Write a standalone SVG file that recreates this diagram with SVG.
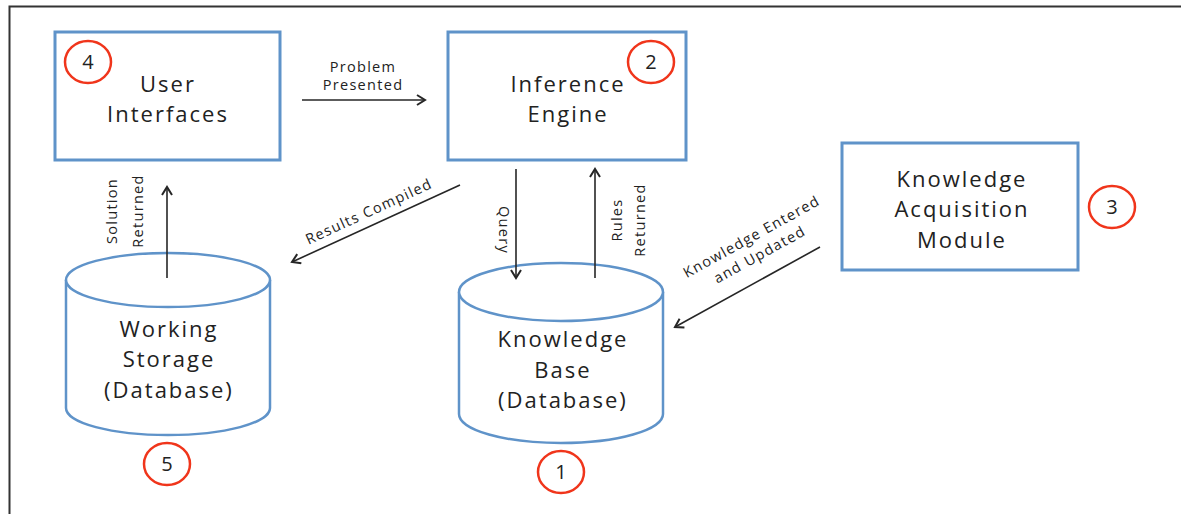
<svg xmlns="http://www.w3.org/2000/svg" width="1181" height="514" viewBox="0 0 1181 514">
<style>
.box{fill:#fff;stroke:#5f93c9;stroke-width:3}
.cyl{fill:#fff;stroke:#5f93c9;stroke-width:2.5}
.badge{fill:#fff;stroke:#f0351b;stroke-width:2.5}
.t{font-family:"Open Sans","Liberation Sans",sans-serif;font-size:22px;letter-spacing:2px;fill:#222;text-anchor:middle}
.n{font-family:"Open Sans","Liberation Sans",sans-serif;font-size:20px;fill:#222;text-anchor:middle}
.l{font-family:"Open Sans","Liberation Sans",sans-serif;font-size:14.5px;letter-spacing:1.3px;fill:#222;text-anchor:middle}
.c{stroke:#262626;stroke-width:1.6;fill:none;marker-end:url(#ah)}
</style>
<defs>
<marker id="ah" viewBox="0 0 12 12" refX="10" refY="6" markerWidth="12" markerHeight="12" markerUnits="userSpaceOnUse" orient="auto">
<path d="M2,1 L10,6 L2,11" fill="none" stroke="#262626" stroke-width="2"/>
</marker>
</defs>
<rect x="0" y="0" width="1181" height="514" fill="#fff"/>
<path d="M9.5,514 V6.5 H1181" fill="none" stroke="#333" stroke-width="2"/>

<g id="user-interfaces">
<rect class="box" x="55" y="32" width="225" height="128"/>
<text class="t" x="168" y="92">User</text>
<text class="t" x="168" y="122">Interfaces</text>
<ellipse class="badge" cx="88" cy="62" rx="23" ry="21"/>
<text class="n" x="88" y="69">4</text>
</g>

<g id="inference-engine">
<rect class="box" x="448" y="32" width="238" height="128"/>
<text class="t" x="568" y="92">Inference</text>
<text class="t" x="568" y="122">Engine</text>
<ellipse class="badge" cx="651" cy="62" rx="23" ry="21"/>
<text class="n" x="651" y="69">2</text>
</g>

<g id="knowledge-acquisition">
<rect class="box" x="842" y="143" width="236" height="127"/>
<text class="t" x="962" y="187">Knowledge</text>
<text class="t" x="962" y="217">Acquisition</text>
<text class="t" x="962" y="248">Module</text>
<ellipse class="badge" cx="1112" cy="207" rx="23" ry="21"/>
<text class="n" x="1112" y="214">3</text>
</g>

<g id="working-storage">
<path class="cyl" d="M66,280 V408 A102,27 0 0 0 270,408 V280"/>
<ellipse class="cyl" cx="168" cy="280" rx="102" ry="27"/>
<text class="t" x="169" y="337">Working</text>
<text class="t" x="169" y="367">Storage</text>
<text class="t" x="169" y="398">(Database)</text>
<ellipse class="badge" cx="167" cy="464" rx="23" ry="21"/>
<text class="n" x="167" y="471">5</text>
</g>

<g id="knowledge-base">
<path class="cyl" d="M459,292 V414 A102,29 0 0 0 663,414 V292"/>
<ellipse class="cyl" cx="561" cy="292" rx="102" ry="29"/>
<text class="t" x="563" y="347">Knowledge</text>
<text class="t" x="563" y="378">Base</text>
<text class="t" x="563" y="408">(Database)</text>
<ellipse class="badge" cx="561" cy="472" rx="23" ry="21"/>
<text class="n" x="561" y="479">1</text>
</g>

<g id="connectors">
<line class="c" x1="302" y1="100" x2="425" y2="100"/>
<text class="l" x="363" y="72">Problem</text>
<text class="l" x="363" y="90">Presented</text>

<line class="c" x1="167" y1="278" x2="167" y2="187"/>
<text class="l" transform="translate(117,211) rotate(-90)">Solution</text>
<text class="l" transform="translate(143,211) rotate(-90)">Returned</text>

<line class="c" x1="460" y1="185" x2="292" y2="262"/>
<text class="l" transform="translate(371,216) rotate(-24.6)">Results Compiled</text>

<line class="c" x1="516" y1="169" x2="516" y2="278"/>
<text class="l" transform="translate(499,230) rotate(90)">Query</text>

<line class="c" x1="595" y1="278" x2="595" y2="169"/>
<text class="l" transform="translate(622,220) rotate(-90)">Rules</text>
<text class="l" transform="translate(645,220) rotate(-90)">Returned</text>

<line class="c" x1="820" y1="247" x2="675" y2="327"/>
<text class="l" transform="translate(754,241) rotate(-29)">Knowledge Entered</text>
<text class="l" transform="translate(762,259) rotate(-29)">and Updated</text>
</g>
</svg>
